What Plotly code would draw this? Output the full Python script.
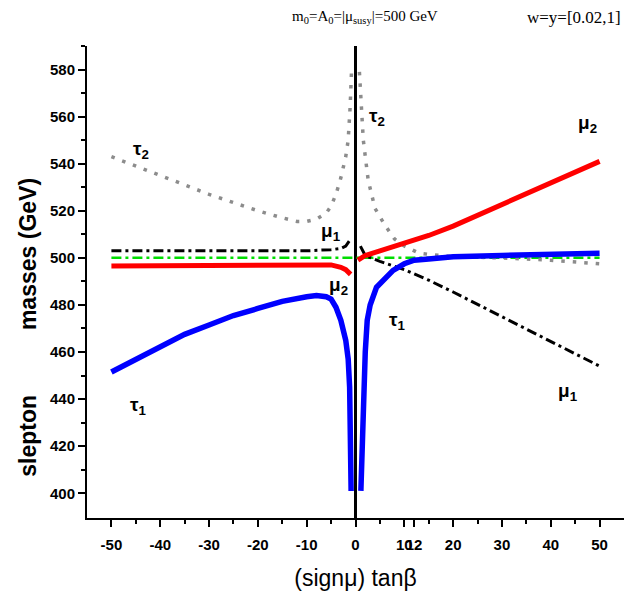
import plotly.graph_objects as go

# (sign mu) tan(beta) values and slepton masses (GeV)
# each curve splits at tan(beta) = 0, so left (mu < 0) and right (mu > 0) branches are kept apart
tau2_left_x = [-50, -45, -40, -35, -30, -25, -20, -15, -12, -10, -8, -6, -5, -4, -3, -2, -1.5, -1.1, -0.8]
tau2_left_y = [543, 539, 535, 531, 527, 523.5, 520, 517, 515.5, 515.5, 516.5, 519, 522, 527, 534, 543, 550, 564, 580]
tau2_right_x = [0.8, 1.2, 1.6, 2.6, 4, 6, 8, 10, 13, 15, 20, 30, 40, 50]
tau2_right_y = [579, 564, 550, 533, 521, 514, 508, 505, 502, 501.5, 500.5, 500, 499, 497.5]

mu2_left_x = [-50, -40, -30, -20, -10, -5, -3, -2, -1]
mu2_left_y = [496.5, 496.5, 496.5, 497, 497, 497, 496, 495, 493]
mu2_right_x = [0.5, 2, 5, 10, 15, 20, 30, 40, 50]
mu2_right_y = [499, 501, 503, 506, 509.5, 513.5, 522.5, 532, 541]

mu1_left_x = [-50, -40, -30, -20, -10, -5, -3, -2, -1]
mu1_left_y = [503, 503, 503, 503, 503, 503.5, 504, 505, 508]
mu1_right_x = [1, 2, 5, 10, 15, 20, 30, 40, 50]
mu1_right_y = [505, 501, 498.5, 495, 490.5, 485.5, 475, 464.5, 454]

ref_x = [-50, -25, 0, 25, 50]
ref_y = [500, 500, 500, 500, 500]

tau1_left_x = [-50, -45, -40, -35, -30, -25, -20, -15, -10, -8, -6, -5, -4, -3, -2, -1.5, -1.2, -1.0, -0.9]
tau1_left_y = [451.5, 457, 462.5, 467.5, 471.5, 475.5, 478.5, 481.5, 483.5, 484, 483.5, 482.5, 479, 473.5, 465, 457, 445, 420, 401]
tau1_right_x = [1.1, 1.3, 1.6, 2.0, 2.4, 3, 4.3, 6, 7.7, 10, 12, 15, 20, 30, 40, 50]
tau1_right_y = [401, 420, 445, 460, 473.5, 480, 487.5, 491.5, 494.7, 497.5, 499, 499.5, 500.5, 501, 501.5, 502]

x_ticks = [-50, -40, -30, -20, -10, 0, 10, 12, 20, 30, 40, 50]
x_minor = [-45, -35, -25, -15, -5, 5, 15, 25, 35, 45]
y_ticks = [400, 420, 440, 460, 480, 500, 520, 540, 560, 580]
y_minor = [410, 430, 450, 470, 490, 510, 530, 550, 570, 590]

# curve labels: text, x, y
labels = [
    ("τ<sub>2</sub>", -44, 546), ("τ<sub>2</sub>", 4.5, 560), ("μ<sub>2</sub>", 47.5, 557),
    ("μ<sub>1</sub>", -5, 511), ("μ<sub>2</sub>", -3.5, 488), ("τ<sub>1</sub>", 8.5, 473),
    ("τ<sub>1</sub>", -44.5, 437), ("μ<sub>1</sub>", 43.5, 443),
]

green = dict(color="#00dd00", width=2.5, dash="10px,4px,3px,4px")
black = dict(color="black", width=3, dash="10px,4px,3px,4px")
grey = dict(color="#8c8c8c", width=3.5, dash="3.5px,8px")
red = dict(color="#ff0000", width=5)
blue = dict(color="#0000ff", width=5.5)

fig = go.Figure()
fig.add_trace(go.Scatter(x=ref_x, y=ref_y, mode="lines", line=green))
for xs, ys, ln in [(mu1_left_x, mu1_left_y, black), (mu1_right_x, mu1_right_y, black),
                   (tau2_left_x, tau2_left_y, grey), (tau2_right_x, tau2_right_y, grey),
                   (mu2_left_x, mu2_left_y, red), (mu2_right_x, mu2_right_y, red),
                   (tau1_left_x, tau1_left_y, blue), (tau1_right_x, tau1_right_y, blue)]:
    fig.add_trace(go.Scatter(x=xs, y=ys, mode="lines", line=ln))

for txt, lx, ly in labels:
    fig.add_annotation(x=lx, y=ly, text=txt, showarrow=False,
                       font=dict(family="Liberation Sans", size=19, color="black", weight="bold"))

fig.add_annotation(xref="paper", yref="paper", x=0.518, y=1.061, xanchor="center", yanchor="middle",
                   showarrow=False, text="m<sub>0</sub>=A<sub>0</sub>=|μ<sub>susy</sub>|=500 GeV",
                   font=dict(family="Liberation Serif", size=15, color="black"))
fig.add_annotation(xref="paper", yref="paper", x=0.998, y=1.061, xanchor="right", yanchor="middle",
                   showarrow=False, text="w=y=[0.02,1]",
                   font=dict(family="Liberation Serif", size=17, color="black"))
fig.add_annotation(xref="paper", yref="paper", x=-0.11, y=0.174, xanchor="center", yanchor="middle",
                   textangle=-90, showarrow=False, text="slepton",
                   font=dict(family="Liberation Sans", size=23, color="black", weight="bold"))
fig.add_annotation(xref="paper", yref="paper", x=-0.11, y=0.559, xanchor="center", yanchor="middle",
                   textangle=-90, showarrow=False, text="masses (GeV)",
                   font=dict(family="Liberation Sans", size=23, color="black", weight="bold"))

tickfont = dict(family="Liberation Sans", size=15, color="black", weight="bold")
# the page body adds 8px around the figure, so the figure is 8px smaller and margins shift
fig.update_layout(
    width=627, height=591, showlegend=False,
    paper_bgcolor="white", plot_bgcolor="white",
    margin=dict(l=79, r=11, t=38, b=81),
    xaxis=dict(range=[-55, 55], tickmode="array", tickvals=x_ticks,
               ticktext=[str(v) for v in x_ticks], tickangle=0, automargin=False,
               ticks="outside", ticklen=7, tickwidth=2, tickcolor="black", tickfont=tickfont,
               ticklabelstandoff=5,
               minor=dict(tickvals=x_minor, ticks="outside", ticklen=4, tickwidth=2, tickcolor="black"),
               showline=True, linewidth=2, linecolor="black", showgrid=False,
               zeroline=True, zerolinewidth=3, zerolinecolor="black",
               title=dict(text="(signμ) tanβ", standoff=18,
                          font=dict(family="Liberation Sans", size=23, color="black"))),
    yaxis=dict(range=[389.5, 590], tickmode="array", tickvals=y_ticks, automargin=False,
               ticks="outside", ticklen=7, tickwidth=2, tickcolor="black", tickfont=tickfont,
               minor=dict(tickvals=y_minor, ticks="outside", ticklen=4, tickwidth=2, tickcolor="black"),
               showline=True, linewidth=2, linecolor="black", showgrid=False, zeroline=False),
    xaxis2=dict(overlaying="x", matches="x", side="top", anchor="y", tickmode="array", tickvals=x_ticks,
                showticklabels=False, ticks="inside", ticklen=7, tickwidth=2, tickcolor="black",
                minor=dict(tickvals=x_minor, ticks="inside", ticklen=4, tickwidth=2, tickcolor="black"),
                showline=True, linewidth=2, linecolor="black", showgrid=False, zeroline=False,
                automargin=False),
    yaxis2=dict(overlaying="y", matches="y", side="right", anchor="x", tickmode="array", tickvals=y_ticks,
                showticklabels=False, ticks="inside", ticklen=7, tickwidth=2, tickcolor="black",
                minor=dict(tickvals=y_minor, ticks="inside", ticklen=4, tickwidth=2, tickcolor="black"),
                showline=True, linewidth=2, linecolor="black", showgrid=False, zeroline=False,
                automargin=False),
)

fig.write_html("out.html")
